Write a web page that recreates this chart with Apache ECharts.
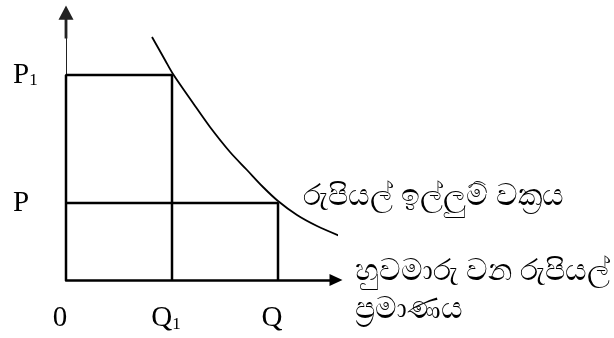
<!DOCTYPE html>
<html>
<head>
<meta charset="utf-8">
<script src="https://cdn.jsdelivr.net/npm/echarts@6/dist/echarts.min.js"></script>
<style>
  html, body { margin: 0; padding: 0; background: #fff; }
  #main { width: 614px; height: 338px; }
</style>
</head>
<body>
<div id="main"></div>
<script>
// 数量与价格
var qValues = [0, 106, 212];
var qLabels = ['{b|0}', '{b|Q}{s|1}', '{b|Q}'];
var pValues = [77, 205];
var pLabels = ['{b|P}', '{b|P}{s|1}'];

// 需求曲线上的点
var curveQ = [86, 99, 107, 127, 144, 164, 181, 197, 212, 231, 251, 274];
var curveP = [243, 220, 206, 177, 153, 128, 110, 93, 79, 65, 54, 44];

var curveName = 'රුපියල් ඉල්ලුම් වක්‍රය';
var xName1 = 'හුවමාරු වන රුපියල්';
var xName2 = 'ප්‍රමාණය';

var xMax = 270;
var yMax = 258;

var curveData = [];
for (var i = 0; i < curveQ.length; i++) {
  curveData.push([curveQ[i], curveP[i]]);
}

// 两个矩形
var boxHigh = [[0, 0], [0, pValues[1]], [qValues[1], pValues[1]], [qValues[1], 0]];
var boxLow = [[0, pValues[0]], [qValues[2], pValues[0]], [qValues[2], 0]];

var richText = {
  b: { fontFamily: 'Liberation Serif', fontSize: 29, color: '#000' },
  s: { fontFamily: 'Liberation Serif', fontSize: 17, color: '#000', verticalAlign: 'bottom', padding: [12, 0, 0, 0] }
};

var myChart = echarts.init(document.getElementById('main'), null, { renderer: 'canvas' });

var option = {
  animation: false,
  grid: { left: 66, right: 278, top: 22, bottom: 58, containLabel: false },
  xAxis: {
    type: 'value',
    min: 0,
    max: xMax,
    splitLine: { show: false },
    axisTick: { show: false },
    axisLine: {
      onZero: false,
      symbol: ['none', 'path://M6,0 L12,13 L0,13 Z'],
      symbolSize: [12, 13],
      lineStyle: { color: '#000', width: 2.5 }
    },
    axisLabel: {
      customValues: qValues,
      margin: 24,
      padding: [0, 12, 0, 0],
      color: '#000',
      formatter: function (v) {
        var k = qValues.indexOf(v);
        return k >= 0 ? qLabels[k] : '';
      },
      rich: richText
    }
  },
  yAxis: {
    type: 'value',
    min: 0,
    max: yMax,
    splitLine: { show: false },
    axisTick: { show: false },
    axisLine: {
      onZero: false,
      symbol: ['none', 'path://M8,0 L16,15 L9.5,15 L9.5,35 L6.5,35 L6.5,15 L0,15 Z'],
      symbolSize: [15, 35],
      lineStyle: { color: '#222', width: 1 }
    },
    axisLabel: {
      customValues: pValues,
      align: 'left',
      margin: 53,
      color: '#000',
      formatter: function (v) {
        var k = pValues.indexOf(v);
        return k >= 0 ? pLabels[k] : '';
      },
      rich: richText
    }
  },
  graphic: [
    {
      type: 'text',
      x: 303,
      y: 196,
      style: { text: curveName, fontSize: 30, fill: '#000', fontFamily: 'Noto Sans', verticalAlign: 'middle' }
    },
    {
      type: 'text',
      x: 355,
      y: 271,
      style: { text: xName1, fontSize: 30, fill: '#000', fontFamily: 'Noto Sans', verticalAlign: 'middle' }
    },
    {
      type: 'text',
      x: 355,
      y: 309,
      style: { text: xName2, fontSize: 30, fill: '#000', fontFamily: 'Noto Sans', verticalAlign: 'middle' }
    }
  ],
  series: [
    {
      type: 'line',
      data: boxHigh,
      symbol: 'none',
      lineStyle: { color: '#000', width: 2.5 },
      z: 3
    },
    {
      type: 'line',
      data: boxLow,
      symbol: 'none',
      lineStyle: { color: '#000', width: 2.5 },
      z: 3
    },
    {
      type: 'line',
      data: curveData,
      symbol: 'none',
      smooth: 0.3,
      clip: false,
      lineStyle: { color: '#000', width: 1.8 },
      z: 4
    }
  ]
};

myChart.setOption(option);
</script>
</body>
</html>
